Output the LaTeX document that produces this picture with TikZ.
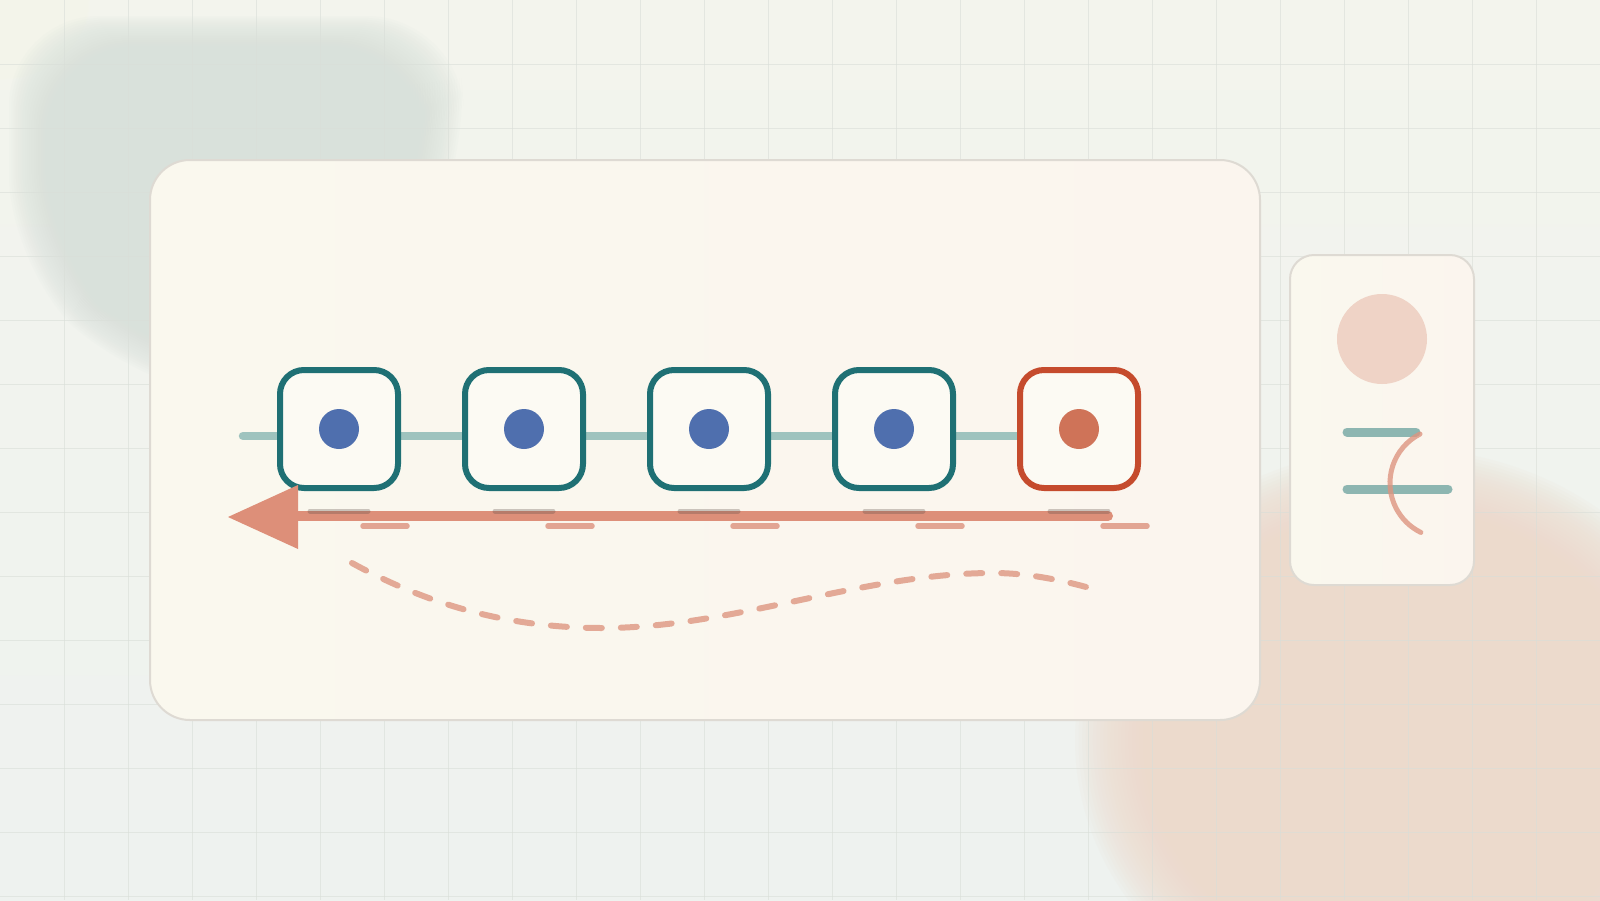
\documentclass[tikz,border=0pt]{standalone}
\definecolor{bgtop}{HTML}{F3F4ED}
\definecolor{bgbot}{HTML}{EEF2EF}
\definecolor{blobA}{HTML}{D9E1DB}
\definecolor{blobB}{HTML}{ECDACC}
\definecolor{blobC}{HTML}{FAF5EA}
\definecolor{gridc}{HTML}{D9DED8}
\definecolor{cardL}{HTML}{FAF8EE}
\definecolor{cardR}{HTML}{FBF5EE}
\definecolor{cardB}{HTML}{DEDAD3}
\definecolor{boxfill}{HTML}{FCFAF3}
\definecolor{tealdark}{HTML}{1F7074}
\definecolor{reddark}{HTML}{C54B2D}
\definecolor{bluedot}{HTML}{4F6FAE}
\definecolor{orangedot}{HTML}{CF7358}
\definecolor{teallight}{HTML}{9EC3BE}
\definecolor{tealmid}{HTML}{8DB6B1}
\definecolor{arrowc}{HTML}{DD8F79}
\definecolor{dashc}{HTML}{E2A593}
\definecolor{wavec}{HTML}{E3A996}
\definecolor{pinkc}{HTML}{EFD3C6}
\definecolor{arcc}{HTML}{DE9580}
\definecolor{tickc}{HTML}{5E4E48}
\newcommand{\softblob}[6]{%
  \begin{scope}[shift={(#1,#2)}, rotate=#6]
  \foreach \k in {0,...,29} {
    \pgfmathsetmacro{\sf}{1-0.32*\k/29}
    \fill[#5, opacity=0.09] (0,0) ellipse [x radius={\sf*#3}, y radius={\sf*#4}];
  }
  \end{scope}}
\newcommand{\softpoly}[4]{% center x, center y, color, polygon path
  \foreach \k in {0,...,29} {
    \pgfmathsetmacro{\sf}{1-0.3*\k/29}
    \begin{scope}[shift={(#1,#2)}, scale=\sf]
      \fill[#3, opacity=0.09, rounded corners=90pt] #4;
    \end{scope}
  }}
\pgfdeclarelayer{back}
\pgfdeclarelayer{mid}
\pgfsetlayers{back,mid,main}
\begin{document}
\begin{tikzpicture}[x=1pt,y=1pt,
  gridline/.style={draw=gridc, line width=1pt, opacity=0.6},
  card/.style={draw=cardB, line width=2pt, left color=cardL, right color=cardR},
  stepbox/.style={draw=tealdark, line width=6pt, fill=boxfill, rounded corners=24pt, minimum size=118pt, inner sep=0pt},
  lastbox/.style={stepbox, draw=reddark},
  dot/.style={circle, fill=bluedot, minimum size=40pt, inner sep=0pt},
  lastdot/.style={dot, fill=orangedot},
  rail/.style={draw=teallight, line width=8.5pt, line cap=round},
  arrowline/.style={draw=arrowc, line width=10pt, line cap=round},
  tickdark/.style={draw=tickc, opacity=0.3, line width=5pt, line cap=round},
  ticklight/.style={draw=dashc, line width=5.5pt, line cap=round},
  wave/.style={draw=wavec, line width=6pt, line cap=round, dash pattern=on 16pt off 19pt},
  sideline/.style={draw=tealmid, line width=9pt, line cap=round},
  sidearc/.style={draw=arcc, opacity=0.8, line width=5pt, line cap=round}
]
\useasboundingbox (0,0) rectangle (1600,-900);
\begin{pgfonlayer}{back}
  \shade[top color=bgtop, bottom color=bgbot] (0,0) rectangle (1600,-900);
  \softblob{0}{0}{90}{80}{blobC}{0}
  \softpoly{230}{-200}{blobA}{(-221,184) -- (227,184) -- (238,32) -- (108,-216) -- (-97,-184) -- (-221,-65) -- cycle}
  \softblob{1400}{-740}{325}{292}{blobB}{0}
  \foreach \gx in {64,128,...,1536} \draw[gridline] (\gx,0) -- (\gx,-900);
  \foreach \gy in {64,128,...,896} \draw[gridline] (0,-\gy) -- (1600,-\gy);
  % main card
  \path[card, rounded corners=40pt] (150,-160) rectangle (1260,-720);
  % side card
  \path[card, rounded corners=24pt] (1290,-255) rectangle (1474,-585);
\end{pgfonlayer}

% step boxes
\node[stepbox] (b1) at (339,-429) {};
\node[stepbox] (b2) at (524,-429) {};
\node[stepbox] (b3) at (709,-429) {};
\node[stepbox] (b4) at (894,-429) {};
\node[lastbox] (b5) at (1079,-429) {};
\node[dot] (d1) at (b1.center) {};
\node[dot] (d2) at (b2.center) {};
\node[dot] (d3) at (b3.center) {};
\node[dot] (d4) at (b4.center) {};
\node[lastdot] (d5) at (b5.center) {};

\begin{pgfonlayer}{mid}
  \coordinate (r0) at (243,-436);
  \draw[rail] (r0) -- (r0 -| b5.center);
\end{pgfonlayer}

% return arrow
\coordinate (aR) at (1108,-516);
\coordinate (aL) at (292,-516);
\coordinate (tip) at (228,-517);
\coordinate (tu) at (298,-485);
\coordinate (tl) at (298,-549);
\draw[arrowline] (aR) -- (aL);
\fill[arrowc] (tip) -- (tu) -- (tl) -- cycle;

% tick marks
\foreach \i in {1,...,5} {
  \path (b\i.center) ++(0,-82) coordinate (t\i);
  \draw[tickdark] ([xshift=-29pt]t\i) -- ([xshift=29pt]t\i);
  \draw[ticklight] ([xshift=24pt,yshift=-15pt]t\i) -- ([xshift=68pt,yshift=-15pt]t\i);
}

% dashed wave
\coordinate (w0) at (352,-563);
\coordinate (w1) at (603,-628);
\coordinate (w2) at (993,-573);
\coordinate (w3) at (1097,-590);
\draw[wave] (w0) .. controls (432,-607) and (513,-628) .. (w1)
  .. controls (733,-628) and (863,-573) .. (w2)
  .. controls (1028,-573) and (1062,-580) .. (w3);

% side card contents
\node[circle, fill=pinkc, minimum size=90pt, inner sep=0pt] (pc) at (1382,-339) {};
\coordinate (l1a) at (1347,-432);
\coordinate (l1b) at (1416,-432);
\coordinate (l2a) at (1347,-489);
\coordinate (l2b) at (1448,-489);
\draw[sideline] (l1a) -- (l1b);
\draw[sideline] (l2a) -- (l2b);
\coordinate (arcS) at (1420,-434);
\draw[sidearc] (arcS) arc[start angle=117, end angle=244, radius=55pt];
\end{tikzpicture}
\end{document}
